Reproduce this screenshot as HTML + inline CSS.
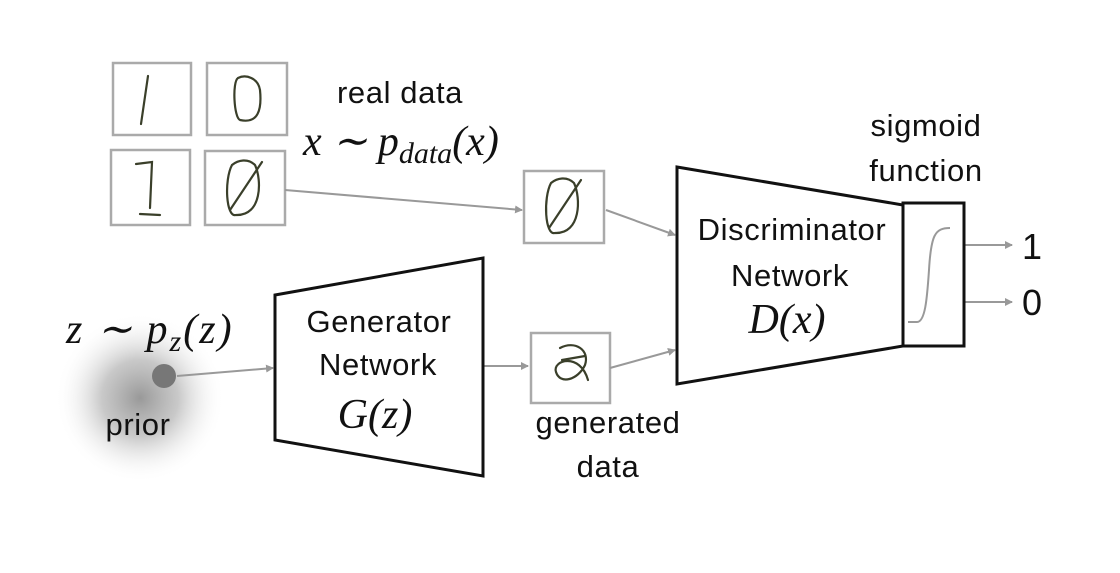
<!DOCTYPE html>
<html><head><style>
body{margin:0;background:#fff;}
svg text{font-family:"Liberation Sans",sans-serif;fill:#111;}
.t{font-size:31px;letter-spacing:0.6px;}
.m{font-family:"Liberation Serif",serif;font-style:italic;}
</style></head><body>
<svg width="1120" height="568" viewBox="0 0 1120 568">
<defs>
<radialGradient id="g"><stop offset="0" stop-color="#999"/><stop offset="0.45" stop-color="#bbb" stop-opacity="0.8"/><stop offset="1" stop-color="#fff" stop-opacity="0"/></radialGradient>
<marker id="a" markerWidth="8" markerHeight="8" refX="7" refY="4" orient="auto" markerUnits="userSpaceOnUse"><path d="M0,0 L8,4 L0,8z" fill="#999"/></marker>
</defs>
<circle cx="140" cy="398" r="85" fill="url(#g)"/>
<circle cx="164" cy="376" r="12" fill="#777"/>
<g fill="none" stroke="#aaa" stroke-width="2.5">
<rect x="113" y="63" width="78" height="72"/><rect x="207" y="63" width="80" height="72"/>
<rect x="111" y="150" width="79" height="75"/><rect x="205" y="151" width="80" height="74"/>
<rect x="524" y="171" width="80" height="72"/><rect x="531" y="333" width="79" height="70"/>
</g>
<g fill="none" stroke="#3a3f2a" stroke-width="2.2" stroke-linecap="round">
<path d="M148 76 L141 124"/>
<path d="M238 78 C232 82 234 118 240 120 C258 124 262 110 260 90 C258 78 246 74 238 78"/>
<path d="M136 164 L152 162 L150 208 M140 214 L160 215"/>
<path d="M232 165 C224 180 226 218 236 215 C262 216 262 180 255 165 C248 158 238 160 232 165 M230 210 L262 162"/>
<path d="M551 183 C543 198 545 236 555 233 C581 234 581 198 574 183 C567 176 557 178 551 183 M549 228 L581 180"/>
<path d="M560 348 C575 340 590 350 585 365 C578 380 560 385 556 372 C552 360 580 352 588 380 M562 360 L585 356"/>
</g>
<g stroke="#999" stroke-width="2" fill="none" marker-end="url(#a)">
<line x1="285" y1="190" x2="522" y2="210"/>
<line x1="606" y1="210" x2="675" y2="235"/>
<line x1="610" y1="368" x2="675" y2="350"/>
<line x1="483" y1="366" x2="528" y2="366"/>
<line x1="177" y1="376" x2="273" y2="368"/>
<line x1="964" y1="245" x2="1012" y2="245"/>
<line x1="964" y1="302" x2="1012" y2="302"/>
</g>
<g fill="#fff" stroke="#111" stroke-width="3">
<polygon points="275,295 483,258 483,476 275,440"/>
<polygon points="677,167 903,205 903,346 677,384"/>
<rect x="903" y="203" width="61" height="143"/>
</g>
<path d="M908 322 L917 322 C925 322 927 300 929 270 C931 235 935 228 950 228" fill="none" stroke="#999" stroke-width="2"/>
<text x="400" y="103" class="t" text-anchor="middle">real data</text>
<text x="303" y="155" font-size="42" class="m">x ∼ p<tspan font-size="30" dy="8">data</tspan><tspan dy="-8">(x)</tspan></text>
<text x="926" y="136" class="t" text-anchor="middle">sigmoid</text>
<text x="926" y="181" class="t" text-anchor="middle">function</text>
<text x="792" y="240" class="t" text-anchor="middle">Discriminator</text>
<text x="790" y="286" class="t" text-anchor="middle">Network</text>
<text x="787" y="333" font-size="42" text-anchor="middle" class="m">D(x)</text>
<text x="379" y="332" class="t" text-anchor="middle">Generator</text>
<text x="378" y="375" class="t" text-anchor="middle">Network</text>
<text x="375" y="428" font-size="42" text-anchor="middle" class="m">G(z)</text>
<text x="66" y="343" font-size="42" class="m" letter-spacing="2">z ∼ p<tspan font-size="30" dy="8">z</tspan><tspan dy="-8">(z)</tspan></text>
<text x="138" y="435" class="t" text-anchor="middle">prior</text>
<text x="608" y="433" class="t" text-anchor="middle">generated</text>
<text x="608" y="477" class="t" text-anchor="middle">data</text>
<text x="1022" y="259" font-size="36">1</text>
<text x="1022" y="315" font-size="36">0</text>
</svg>
</body></html>
